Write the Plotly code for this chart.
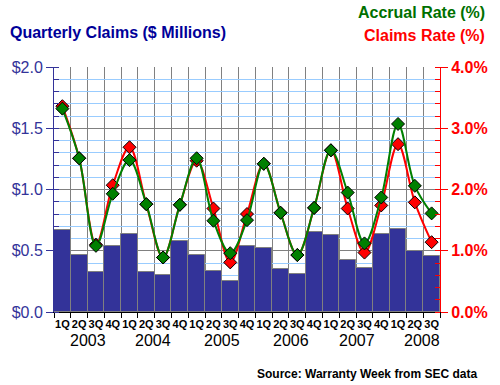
import plotly.graph_objects as go

quarters = ["1Q", "2Q", "3Q", "4Q"] * 5 + ["1Q", "2Q", "3Q"]
years = ["2003", "2004", "2005", "2006", "2007", "2008"]
year_pos = [1.5, 5.4, 9.5, 13.6, 17.55, 21.45]

claims_musd = [0.666, 0.465, 0.327, 0.536, 0.637, 0.327, 0.302, 0.576,
               0.465, 0.335, 0.253, 0.536, 0.521, 0.351, 0.310, 0.653,
               0.629, 0.424, 0.359, 0.637, 0.674, 0.498, 0.457]
accrual_rate = [3.32, 2.51, 1.08, 1.93, 2.48, 1.76, 0.89, 1.75,
                2.51, 1.49, 0.96, 1.50, 2.42, 1.62, 0.93, 1.70,
                2.64, 1.95, 1.12, 1.87, 3.07, 2.06, 1.61]
claims_rate = [3.36, 2.51, 1.10, 2.07, 2.69, 1.76, 0.89, 1.75,
               2.47, 1.69, 0.81, 1.60, 2.42, 1.62, 0.93, 1.70,
               2.64, 1.69, 0.97, 1.74, 2.74, 1.79, 1.14]

x = list(range(len(quarters)))
FONT = "Liberation Sans, Arial, sans-serif"
NAVY = "#333399"

fig = go.Figure()
fig.add_trace(go.Bar(x=x, y=claims_musd, marker=dict(color=NAVY, line=dict(color="#808080", width=1)),
                     yaxis="y", showlegend=False))
fig.add_trace(go.Scatter(x=x, y=claims_rate, yaxis="y2", mode="lines+markers",
                         line=dict(color="#ff0000", width=2, shape="spline", smoothing=1),
                         marker=dict(symbol="diamond", size=10, color="#ff0000", line=dict(color="black", width=1)),
                         showlegend=False))
fig.add_trace(go.Scatter(x=x, y=accrual_rate, yaxis="y2", mode="lines+markers",
                         line=dict(color="#008000", width=2, shape="spline", smoothing=1),
                         marker=dict(symbol="diamond", size=10, color="#008000", line=dict(color="black", width=1)),
                         showlegend=False))

annotations = []
for yr, p in zip(years, year_pos):
    annotations.append(dict(x=p, y=-0.117, xref="x", yref="paper", text=yr, showarrow=False,
                            font=dict(family=FONT, size=16, color="black"), yanchor="middle"))
annotations += [
    dict(x=-0.118, y=1.142, xref="paper", yref="paper", text="<b>Quarterly Claims ($ Millions)</b>",
         showarrow=False, xanchor="left", yanchor="middle", font=dict(family=FONT, size=16, color="#000099")),
    dict(x=1.1206, y=1.2237, xref="paper", yref="paper", text="<b>Accrual Rate (%)</b>",
         showarrow=False, xanchor="right", yanchor="middle", font=dict(family=FONT, size=16, color="#007000")),
    dict(x=1.1206, y=1.1298, xref="paper", yref="paper", text="<b>Claims Rate (%)</b>",
         showarrow=False, xanchor="right", yanchor="middle", font=dict(family=FONT, size=16, color="#ff0000")),
    dict(x=1.1, y=-0.252, xref="paper", yref="paper", text="<b>Source: Warranty Week from SEC data</b>",
         showarrow=False, xanchor="right", yanchor="middle", font=dict(family=FONT, size=12, color="black")),
]

fig.update_layout(
    width=500, height=385,
    margin=dict(l=52, r=53, t=67, b=73),
    paper_bgcolor="white", plot_bgcolor="white",
    bargap=0,
    showlegend=False,
    annotations=annotations,
    xaxis=dict(tickmode="array", tickvals=x, ticktext=quarters, range=[-0.5, len(x) - 0.5],
               tickangle=0, ticklabelstandoff=2,
               showgrid=False, ticks="", showline=True, linecolor="black", linewidth=1,
               tickfont=dict(family=FONT, size=11, color="black", weight="bold"),
               minor=dict(tickvals=[i - 0.5 for i in range(len(x) + 1)], ticks="outside", ticklen=5,
                          tickcolor="black", showgrid=True, gridcolor="#808080", gridwidth=1),
               zeroline=False, fixedrange=True),
    yaxis=dict(range=[0, 2], dtick=0.5, tickformat=".1f", tickprefix="$",
               showgrid=True, gridcolor="#808080", gridwidth=1,
               ticks="outside", ticklen=7, tickcolor=NAVY, showline=True, linecolor=NAVY, linewidth=1,
               tickfont=dict(family=FONT, size=16, color=NAVY),
               minor=dict(dtick=0.1, ticks="inside", ticklen=5, tickcolor=NAVY, showgrid=True,
                          gridcolor="#99ccff", gridwidth=1),
               zeroline=False, fixedrange=True),
    yaxis2=dict(range=[0, 4], dtick=1, tickformat=".1f", ticksuffix="%", overlaying="y", side="right",
                showgrid=False, ticks="outside", ticklen=7, tickcolor="#ff0000", showline=True,
                linecolor="#ff0000", linewidth=1,
                tickfont=dict(family=FONT, size=16, color="#ff0000", weight="bold"),
                minor=dict(dtick=0.2, ticks="inside", ticklen=5, tickcolor="#ff0000"),
                zeroline=False, fixedrange=True),
)

fig.write_html("out.html", config={"displayModeBar": False},
               post_script="document.body.style.margin='0';")
